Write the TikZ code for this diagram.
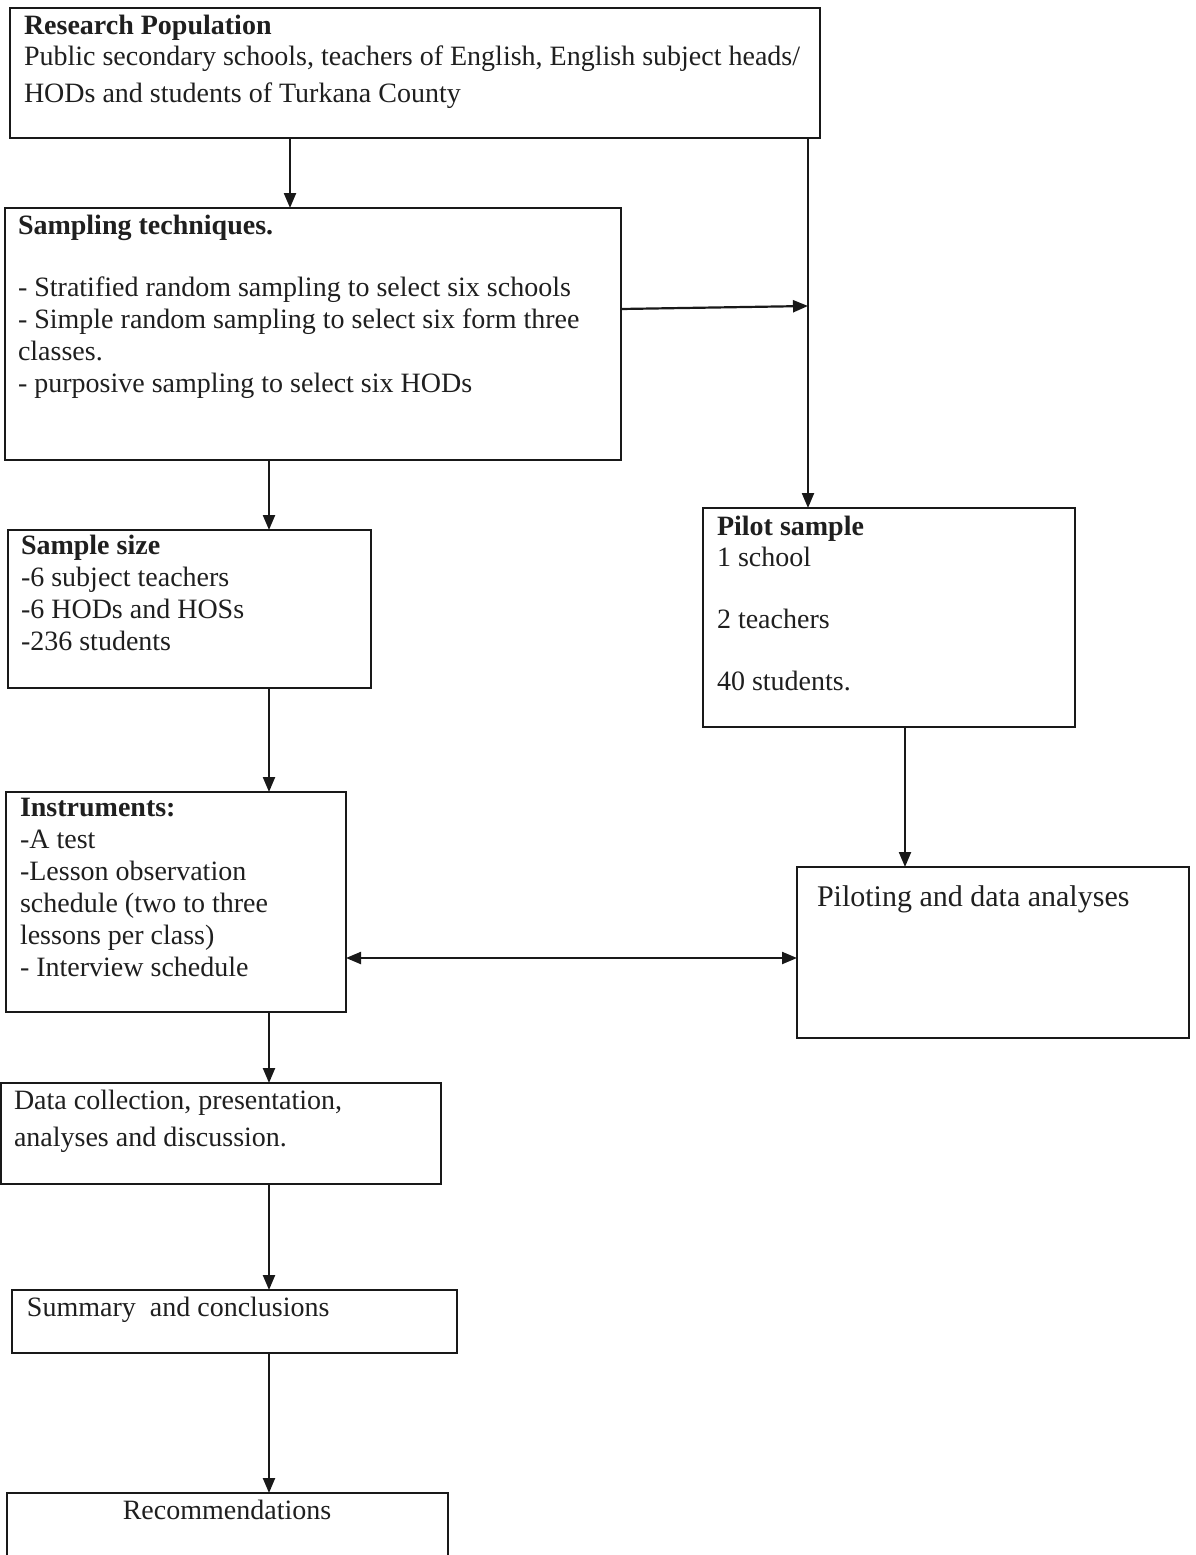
\documentclass[tikz,border=0pt]{standalone}
\usepackage{fontspec}
\setmainfont{Liberation Serif}
\usetikzlibrary{arrows.meta,calc}
\begin{document}
\begin{tikzpicture}[x=1pt,y=-1pt,
  box/.style={draw=black!90,line width=2.2pt,inner sep=0pt,outer sep=0pt,anchor=north west},
  txt/.style={inner sep=0pt,outer sep=0pt,anchor=base west,align=left,text=black!88,font=\fontsize{28}{32}\selectfont},
  arr/.style={draw=black!90,line width=2.2pt,-{Triangle[length=15pt,width=12pt]}}]
\useasboundingbox[fill=white] (0,0) rectangle (1195,1555);
% boxes
\node[box,minimum width=810pt,minimum height=130pt] (rp) at (10,8) {};
\node[box,minimum width=616pt,minimum height=252pt] (st) at (5,208) {};
\node[box,minimum width=363pt,minimum height=158pt] (ss) at (8,530) {};
\node[box,minimum width=372pt,minimum height=219pt] (ps) at (703,508) {};
\node[box,minimum width=340pt,minimum height=220pt] (in) at (6,792) {};
\node[box,minimum width=392pt,minimum height=171pt] (pd) at (797,867) {};
\node[box,minimum width=440pt,minimum height=101pt] (dc) at (1,1083) {};
\node[box,minimum width=445pt,minimum height=63pt] (su) at (12,1290) {};
\node[box,minimum width=441pt,minimum height=75pt] (re) at (7,1493) {};
% texts (anchored at the baseline of their last line)
\node[txt] (trp) at (24,102) {\textbf{Research Population}\\Public secondary schools, teachers of English, English subject heads/\\[4pt]HODs and students of Turkana County};
\node[txt] (tst) at (18,392) {\textbf{Sampling techniques.}\\[30pt]- Stratified random sampling to select six schools\\- Simple random sampling to select six form three\\classes.\\- purposive sampling to select six HODs};
\node[txt] (tss) at (21,650) {\textbf{Sample size}\\-6 subject teachers\\-6 HODs and HOSs\\-236 students};
\node[txt] (tps) at (717,690) {\textbf{Pilot sample}\\[-1pt]1 school\\[30pt]2 teachers\\[30pt]40 students.};
\node[txt] (tin) at (20,976) {\textbf{Instruments:}\\-A test\\-Lesson observation\\schedule (two to three\\lessons per class)\\- Interview schedule};
\node[txt,font=\fontsize{30}{34}\selectfont] (tpd) at (817,906) {Piloting and data analyses};
\node[txt] (tdc) at (14,1146) {Data collection, presentation,\\[5pt]analyses and discussion.};
\node[txt] (tsu) at (27,1316) {Summary\ \ and conclusions};
\node[txt,anchor=base] (tre) at (227,1519) {Recommendations};
% connectors
\coordinate (jn) at (808,306);
\draw[arr] ([xshift=280pt]rp.south west) -- ([xshift=285pt]st.north west);
\draw[arr] ([xshift=798pt]rp.south west) -- ([xshift=105pt]ps.north west);
\draw[arr] ([yshift=-101pt]st.north east) -- (jn);
\draw[arr] ([xshift=264pt]st.south west) -- ([xshift=261pt]ss.north west);
\draw[arr] ([xshift=261pt]ss.south west) -- ([xshift=263pt]in.north west);
\draw[arr] ([xshift=202pt]ps.south west) -- ([xshift=108pt]pd.north west);
\draw[arr,{Triangle[length=15pt,width=12pt]}-{Triangle[length=15pt,width=12pt]}] ([yshift=-166pt]in.north east) -- ([yshift=-91pt]pd.north west);
\draw[arr] ([xshift=263pt]in.south west) -- ([xshift=268pt]dc.north west);
\draw[arr] ([xshift=268pt]dc.south west) -- ([xshift=257pt]su.north west);
\draw[arr] ([xshift=257pt]su.south west) -- ([xshift=262pt]re.north west);
\end{tikzpicture}
\end{document}
